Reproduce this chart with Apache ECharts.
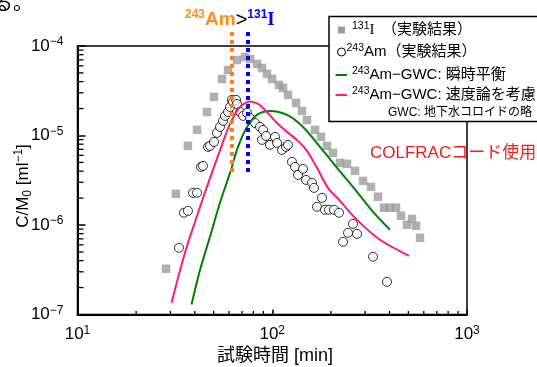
<!DOCTYPE html>
<html><head><meta charset="utf-8">
<script src="https://cdn.jsdelivr.net/npm/echarts@6/dist/echarts.min.js"></script>
<style>html,body{margin:0;padding:0;background:#fff;overflow:hidden}#c{width:537px;height:367px}</style>
</head><body><div id="c"></div>
<script>
// ---- data ----
const iodineTime = [28.5,32.0,36.9,41.1,46.2,50.2,55.2,59.3,65.9,72.5,76.9,83.5,88.6,94.0,99.7,108.3,113.6,120.4,132.4,142.2,150.8,165.8,178.0,191.0,205.1,222.8,242.0,266.1,292.4,321.5,349.1,374.9,402.4,432.0,458.3,492.0,522.0,547.2,573.8];
const iodineConc = [3.24e-7,2.23e-6,7.66e-6,1.155e-5,1.83e-5,2.70e-5,4.28e-5,5.40e-5,6.98e-5,7.54e-5,7.16e-5,6.30e-5,5.68e-5,4.87e-5,4.28e-5,3.67e-5,3.40e-5,2.84e-5,2.31e-5,1.88e-5,1.49e-5,1.155e-5,9.65e-6,7.66e-6,6.39e-6,4.95e-6,4.82e-6,4.03e-6,3.11e-6,2.67e-6,2.07e-6,1.56e-6,1.56e-6,1.56e-6,1.27e-6,1.005e-6,1.17e-6,9.8e-7,7.2e-7];
const amTime = [33.2,35.2,36.9,39.2,41.1,43.1,44.1,46.8,47.9,50.2,52.0,53.9,55.9,57.2,59.3,60.7,62.1,62.9,65.2,65.9,68.3,70.8,74.2,76.9,81.6,86.5,88.6,89.7,92.9,97.4,103.3,105.8,112.2,117.6,120.4,126.3,130.9,135.6,143.9,149.1,160.0,163.8,169.8,180.1,186.6,195.6,207.6,220.2,230.9,244.9,259.8,272.4,329.2,388.4];
const amConc = [5.57e-7,1.37e-6,1.44e-6,2.29e-6,2.29e-6,4.46e-6,4.58e-6,7.46e-6,7.66e-6,8.48e-6,1.069e-5,1.247e-5,1.455e-5,1.655e-5,1.834e-5,2.085e-5,2.5e-5,2.37e-5,2.50e-5,2.25e-5,1.834e-5,1.655e-5,1.79e-5,1.57e-5,1.38e-5,1.247e-5,8.93e-6,1.155e-5,9.9e-6,7.85e-6,9.65e-6,8.27e-6,6.91e-6,7.46e-6,7.85e-6,5.07e-6,4.46e-6,3.63e-6,4.24e-6,3.19e-6,2.96e-6,2.60e-6,1.60e-6,2.01e-6,1.48e-6,1.48e-6,1.48e-6,1.37e-6,6.49e-7,8.18e-7,1.03e-6,7.97e-7,4.42e-7,2.32e-7];
const eqTime = [38.5,42.6,47.9,53.9,60.7,66.7,74.2,83.5,97.4,119.1,143.9,175.9,215.1,259.8,329.2,402.4];
const eqConc = [1.29e-7,3.16e-7,7.38e-7,1.77e-6,3.82e-6,7.46e-6,1.247e-5,1.70e-5,1.88e-5,1.70e-5,1.247e-5,7.46e-6,4.35e-6,2.67e-6,1.40e-6,8.84e-7];
const kinTime = [30.4,35.65,41.6,46.2,49.6,55.2,60.7,68.3,76.9,84.5,91.8,103.3,119.1,135.6,150.8,169.8,193.3,222.8,272.4,357.6,503.8];
const kinConc = [1.355e-7,4.90e-7,1.37e-6,2.67e-6,4.13e-6,7.85e-6,1.347e-5,2.085e-5,2.40e-5,2.25e-5,1.93e-5,1.455e-5,1.097e-5,8.71e-6,6.73e-6,4.35e-6,2.60e-6,1.86e-6,1.14e-6,6.84e-7,4.53e-7];
const amPeakTime = 62.1;     // orange dotted marker
const iPeakTime = 75.1;      // blue dotted marker
const markerRange = [1.434e-4, 3.62e-6];
const xExponents = [1,2,3];
const yExponents = [-7,-6,-5,-4];

const FONT = '"Liberation Sans","Noto Sans CJK JP",sans-serif';
const zip = (a,b) => a.map((v,i)=>[v,b[i]]);

const expLabel = v => {
  const e = Math.round(Math.log10(v));
  return '{b|10}{s|' + (e < 0 ? '\u2212' + (-e) : e) + '}';
};
const labelRich = {
  b: {fontSize: 17, lineHeight: 20, verticalAlign: 'middle', fontFamily: FONT, color: '#000'},
  s: {fontSize: 12, lineHeight: 12, verticalAlign: 'top', fontFamily: FONT, color: '#000'}
};
const legRich = {
  t: {fontSize: 15, lineHeight: 18, verticalAlign: 'middle', fontFamily: FONT, color: '#000'},
  s: {fontSize: 10.5, lineHeight: 10, verticalAlign: 'top', fontFamily: FONT, color: '#000'},
  i: {fontSize: 15, lineHeight: 18, verticalAlign: 'middle', fontFamily: '"Liberation Serif",serif', color: '#000'}
};

const baseGraphic = [
  {type: 'text', left: -7, top: -8, style: {text: 'る。', font: '20px "Noto Sans CJK JP"', fill: '#000'}},
  {type: 'text', x: 185, y: 20, z: 20, style: {
    text: '{os|243}{o|Am}{g|>}{bs|131}{b|I}', verticalAlign: 'middle',
    rich: {
      os: {fontSize: 12, fontWeight: 'bold', lineHeight: 12, verticalAlign: 'top', fill: '#ff8c1a', fontFamily: FONT},
      o: {fontSize: 19, fontWeight: 'bold', lineHeight: 22, verticalAlign: 'middle', fill: '#ff8c1a', fontFamily: FONT},
      g: {fontSize: 20, lineHeight: 22, verticalAlign: 'middle', fill: '#000', fontFamily: FONT},
      bs: {fontSize: 12, fontWeight: 'bold', lineHeight: 12, verticalAlign: 'top', fill: '#0000ff', fontFamily: FONT},
      b: {fontSize: 19, fontWeight: 'bold', lineHeight: 22, verticalAlign: 'middle', fill: '#0000ff', fontFamily: '"Liberation Serif",serif'}
    }}},
  {type: 'text', x: 370, y: 153, z: 20, style: {text: 'COLFRACコード使用', verticalAlign: 'middle', fill: '#e8201a',
    font: '17px "Liberation Sans","Noto Sans CJK JP"'}},
  {type: 'text', x: 275, y: 356, z: 20, style: {text: '試験時間 [min]', align: 'center', verticalAlign: 'middle', fill: '#000',
    font: '18px "Liberation Sans","Noto Sans CJK JP"'}},
  {type: 'text', x: 23, y: 186, rotation: Math.PI / 2, z: 20, style: {
    text: '{t|C/M}{u|0}{t| [ml}{s|\u22121}{t|]}', align: 'center', verticalAlign: 'middle',
    rich: {
      t: {fontSize: 17, lineHeight: 21, verticalAlign: 'middle', fontFamily: FONT, fill: '#000'},
      u: {fontSize: 12, lineHeight: 12, verticalAlign: 'bottom', fontFamily: FONT, fill: '#000'},
      s: {fontSize: 12, lineHeight: 12, verticalAlign: 'top', fontFamily: FONT, fill: '#000'}
    }}},
  // legend box
  {type: 'rect', z: 30, shape: {x: 329, y: 16.5, width: 215, height: 105},
   style: {fill: '#fff', stroke: '#000', lineWidth: 1.5}},
  {type: 'rect', z: 31, shape: {x: 338, y: 26.5, width: 7, height: 7}, style: {fill: '#9c9c9c'}},
  {type: 'circle', z: 31, shape: {cx: 341.5, cy: 52, r: 4}, style: {fill: '#fff', stroke: '#000', lineWidth: 1}},
  {type: 'line', z: 31, shape: {x1: 335.5, y1: 75, x2: 347, y2: 75}, style: {stroke: '#008000', lineWidth: 2}},
  {type: 'line', z: 31, shape: {x1: 335.5, y1: 95, x2: 347, y2: 95}, style: {stroke: '#ff1a75', lineWidth: 2}},
  {type: 'text', z: 31, x: 352, y: 30, style: {text: '{s|131}{i|I}{t|\u3000（実験結果）}', verticalAlign: 'middle', rich: legRich}},
  {type: 'text', z: 31, x: 346.5, y: 52, style: {text: '{s|243}{t|Am（実験結果）}', verticalAlign: 'middle', rich: legRich}},
  {type: 'text', z: 31, x: 352, y: 75, style: {text: '{s|243}{t|Am\u2212GWC: 瞬時平衡}', verticalAlign: 'middle', rich: legRich}},
  {type: 'text', z: 31, x: 352, y: 95, style: {text: '{s|243}{t|Am\u2212GWC: 速度論を考慮}', verticalAlign: 'middle', rich: legRich}},
  {type: 'text', z: 31, x: 388, y: 112.5, style: {text: 'GWC: 地下水コロイドの略', verticalAlign: 'middle', fill: '#000',
    font: '12px "Liberation Sans","Noto Sans CJK JP"'}}
];

const chart = echarts.init(document.getElementById('c'), null, {renderer: 'canvas'});
chart.setOption({
  animation: false,
  backgroundColor: '#fff',
  grid: {left: 77.5, right: 70, top: 46, bottom: 52.5, show: true, borderColor: '#000', borderWidth: 1.5, backgroundColor: 'transparent'},
  xAxis: {
    type: 'log', logBase: 10, min: 10, max: 1000,
    axisLine: {lineStyle: {color: '#000', width: 2}},
    axisTick: {inside: true, length: 5, lineStyle: {color: '#000', width: 1.5}},
    splitLine: {show: false},
    axisLabel: {margin: 10, formatter: expLabel, rich: labelRich}
  },
  yAxis: {
    type: 'log', logBase: 10, min: 1e-7, max: 1e-4,
    axisLine: {lineStyle: {color: '#000', width: 2}},
    axisTick: {inside: true, length: 8, lineStyle: {color: '#000', width: 1.5}},
    splitLine: {show: false},
    axisLabel: {margin: 14, formatter: expLabel, rich: labelRich}
  },
  series: [
    {name: '131I', type: 'scatter', data: zip(iodineTime, iodineConc), symbol: 'rect', symbolSize: 8.5,
     itemStyle: {color: '#9c9c9c'}, z: 2},
    {name: '243Am', type: 'scatter', data: zip(amTime, amConc), symbol: 'circle', symbolSize: 9,
     itemStyle: {color: '#fff', borderColor: '#000', borderWidth: 1}, z: 3},
    {name: 'eq', type: 'line', data: zip(eqTime, eqConc), showSymbol: false, symbol: 'none', smooth: 0.3,
     lineStyle: {color: '#008000', width: 2}, z: 4},
    {name: 'kin', type: 'line', data: zip(kinTime, kinConc), showSymbol: false, symbol: 'none', smooth: 0.3,
     lineStyle: {color: '#ff1a75', width: 2}, z: 4},
    {name: 'amPeak', type: 'line', data: [[amPeakTime, markerRange[0]], [amPeakTime, markerRange[1]]], clip: false,
     symbol: 'none', lineStyle: {color: '#ff7f1e', width: 4, type: [4, 4], cap: 'butt'}, z: 5},
    {name: 'iPeak', type: 'line', data: [[iPeakTime, markerRange[0]], [iPeakTime, markerRange[1]]], clip: false,
     symbol: 'none', lineStyle: {color: '#0000ff', width: 4, type: [4, 4], cap: 'butt'}, z: 5}
  ],
  graphic: baseGraphic
});

// minor ticks of the log axes, placed through the chart's own scales
const ticks = [];
for (let e = xExponents[0]; e < xExponents[xExponents.length-1]; e++)
  for (let m = 2; m <= 9; m++) {
    const p = chart.convertToPixel({gridIndex: 0}, [m*Math.pow(10,e), 1e-7]);
    ticks.push({type: 'line', z: 25, silent: true, shape: {x1: p[0], y1: p[1], x2: p[0], y2: p[1] - 3.5},
      style: {stroke: '#000', lineWidth: 1.3}});
  }
for (let e = yExponents[0]; e < yExponents[yExponents.length-1]; e++)
  for (let m = 2; m <= 9; m++) {
    const p = chart.convertToPixel({gridIndex: 0}, [10, m*Math.pow(10,e)]);
    ticks.push({type: 'line', z: 25, silent: true, shape: {x1: p[0], y1: p[1], x2: p[0] + 6, y2: p[1]},
      style: {stroke: '#000', lineWidth: 1.3}});
  }
chart.setOption({graphic: baseGraphic.concat(ticks)});
</script></body></html>
